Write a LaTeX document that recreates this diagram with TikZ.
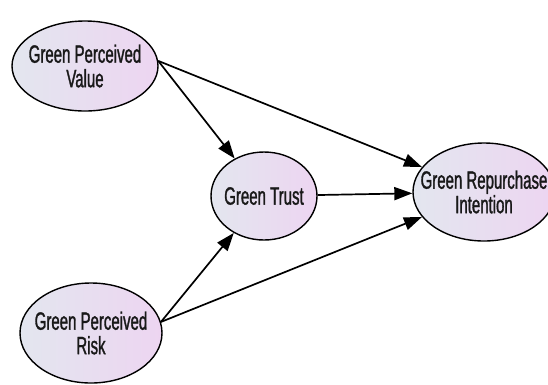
\documentclass[tikz,border=0pt]{standalone}
\usepackage{fontspec}
\newfontfamily\narrowsans[FakeStretch=0.6,FakeBold=1.2]{Liberation Sans}
\usepackage{tikz}
\usetikzlibrary{shapes.geometric,arrows.meta}
\definecolor{shadeleft}{HTML}{E3E6EF}
\definecolor{shaderight}{HTML}{EDD5F1}

\begin{document}
\begin{tikzpicture}[x=1pt,y=-1pt,
  construct/.style={ellipse, draw=black, line width=1.4pt, inner xsep=-20pt, inner ysep=-10pt,
    left color=shadeleft, right color=shaderight, align=center,
    font=\narrowsans\fontsize{25}{24.5}\selectfont, text=black!90},
  path/.style={-{Triangle[length=18pt,width=13pt]}, line width=1.7pt}]
 \useasboundingbox (0,0) rectangle (548,384);
 \node[construct, minimum width=146, minimum height=90] (value) at (85,66) {Green Perceived\\Value};
 \node[construct, minimum width=142, minimum height=100] (risk) at (91,333) {Green Perceived\\Risk};
 \node[construct, minimum width=106, minimum height=88] (trust) at (264,196) {Green Trust};
 \node[construct, minimum width=142, minimum height=98] (intention) at (484,192) {Green Repurchase\\Intention};
  \path[path]
  (value.4) edge (trust)
  edge (intention)
  (trust) edge (intention)
  (risk.9) edge (trust)
  edge (intention)
;
\end{tikzpicture}
\end{document}
